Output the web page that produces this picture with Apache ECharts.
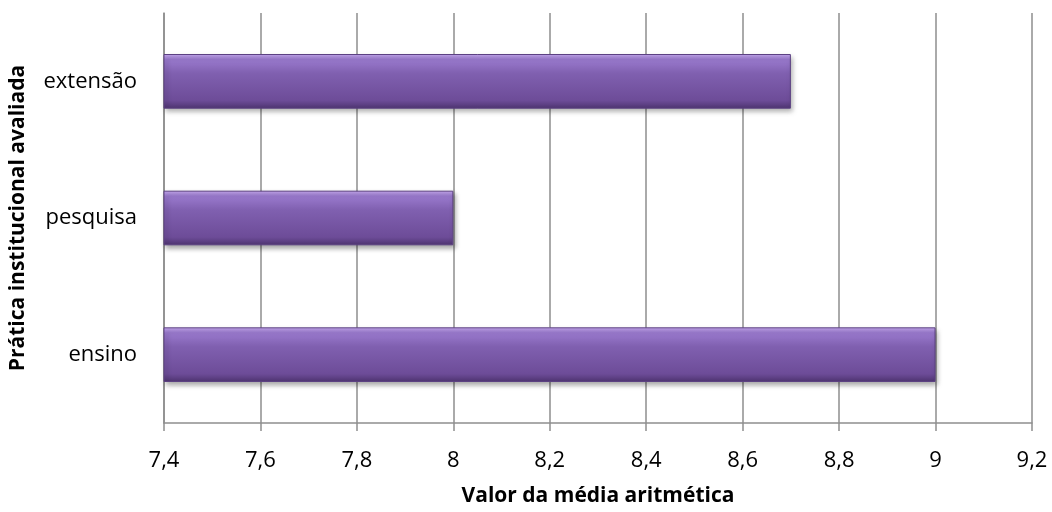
<!DOCTYPE html>
<html>
<head>
<meta charset="utf-8">
<script src="https://cdn.jsdelivr.net/npm/echarts@6/dist/echarts.min.js"></script>
<style>html,body{margin:0;padding:0;background:#fff}#c{width:1052px;height:512px}</style>
</head>
<body>
<div id="c"></div>
<script>
const categories = ['ensino', 'pesquisa', 'extensão'];
const values = [9.0, 8.0, 8.7];
const xTitle = 'Valor da média aritmética';
const yTitle = 'Prática institucional avaliada';

const chart = echarts.init(document.getElementById('c'));
const font = '"Open Sans", "Noto Sans", sans-serif';
const gridColor = '#8e8e8e';
chart.setOption({
  animation: false,
  grid: { left: 164, right: 20, top: 13, bottom: 86 },
  xAxis: {
    type: 'value', min: 7.4, max: 9.2, interval: 0.2,
    name: xTitle, nameLocation: 'middle', nameGap: 63,
    nameTextStyle: { fontFamily: font, fontSize: 21, fontWeight: 'bold', color: '#000' },
    axisLine: { show: true, lineStyle: { color: gridColor, width: 1.5 } },
    axisTick: { show: true, length: 8, lineStyle: { color: gridColor, width: 1.5 } },
    splitLine: { show: true, lineStyle: { color: gridColor, width: 1.5 } },
    axisLabel: {
      margin: 27, fontFamily: font, fontSize: 22, color: '#000',
      formatter: v => String(parseFloat(v.toFixed(1))).replace('.', ',')
    }
  },
  yAxis: {
    type: 'category', data: categories,
    name: yTitle, nameLocation: 'middle', nameGap: 135, nameRotate: 90,
    nameTextStyle: { fontFamily: font, fontSize: 21, fontWeight: 'bold', color: '#000' },
    axisLine: { show: true, lineStyle: { color: gridColor, width: 1.5 } },
    axisTick: { show: false },
    axisLabel: { margin: 27, fontFamily: font, fontSize: 22, color: '#000' }
  },
  series: [{
    type: 'bar', data: values, barWidth: '40%',
    itemStyle: {
      color: new echarts.graphic.LinearGradient(0, 0, 0, 1, [
        { offset: 0, color: '#c8abf2' },
        { offset: 0.1, color: '#9a7ace' },
        { offset: 0.35, color: '#8060b0' },
        { offset: 0.85, color: '#6d4c98' },
        { offset: 1, color: '#4e3470' }
      ]),
      borderColor: '#5c4182', borderWidth: 1,
      shadowColor: 'rgba(0,0,0,0.35)', shadowBlur: 5, shadowOffsetX: 2, shadowOffsetY: 3
    }
  }]
});
</script>
</body>
</html>
